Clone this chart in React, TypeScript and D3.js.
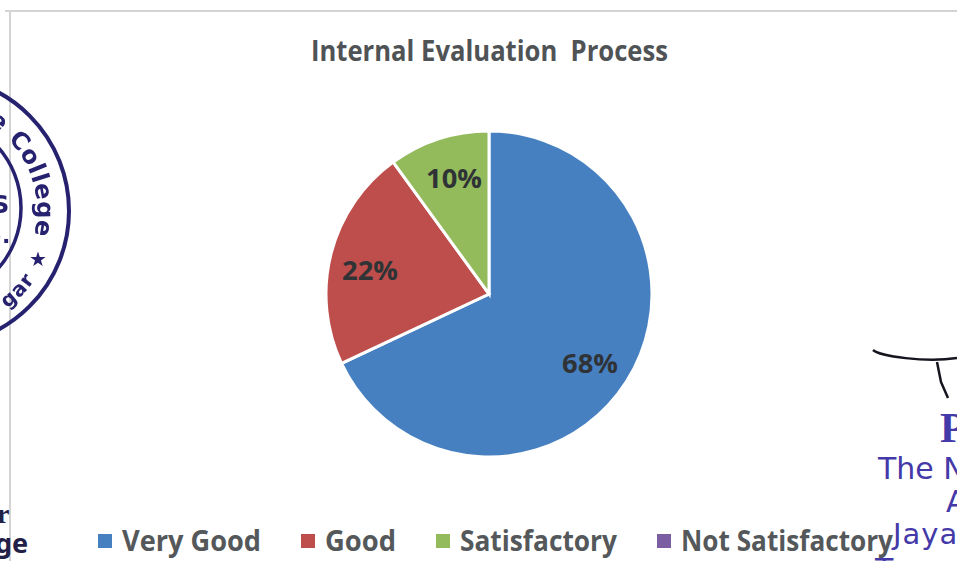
import React from "react";
import * as d3 from "d3";

const chartTitle = "Internal Evaluation  Process";
const categories = ["Very Good", "Good", "Satisfactory", "Not Satisfactory"];
const values = [68, 22, 10, 0];
const colors = ["#4780c0", "#bd4e4b", "#93bb5c", "#7c5fa3"];
const legendX = [98, 301, 436, 657];
const legendTextWidths = [139, 71, 157, 212];
const labelPositions: [number, number][] = [[590, 363], [370, 270], [454, 178]];

const W = 957, H = 561;
const cx = 489, cy = 294, R = 163;
const FONT = "'Open Sans', 'Noto Sans', sans-serif";
const SERIF = "'Liberation Serif', serif";
const SANS = "'DejaVu Sans', sans-serif";
const INK = "#27226f";
const BLUE_INK = "#4439a8";

export default function App() {
  const arcs = d3.pie<number>().sort(null).value((d) => d)(values);
  const arc = d3.arc<d3.PieArcDatum<number>>().innerRadius(0).outerRadius(R);
  const sx = -66, sy = 211;
  const circlePath = (r: number) =>
    `M ${sx} ${sy - r} A ${r} ${r} 0 1 1 ${sx} ${sy + r} A ${r} ${r} 0 1 1 ${sx} ${sy - r}`;
  return (
    <svg width={W} height={H} style={{ position: "absolute", left: 0, top: 0, background: "#fff" }}>
      <defs>
        <path id="stampRing" d={circlePath(103)} />
        <path id="stampRingBottom" d={`M ${sx - 122} ${sy} A 122 122 0 0 0 ${sx + 122} ${sy}`} />
        <filter id="soft"><feGaussianBlur stdDeviation="0.5" /></filter>
      </defs>

      {/* chart frame */}
      <line x1={5} y1={11} x2={W} y2={11} stroke="#d4d4d4" strokeWidth={2} />
      <line x1={10} y1={11} x2={10} y2={H} stroke="#d4d4d4" strokeWidth={2} />

      {/* stamp fragment */}
      <g filter="url(#soft)">
        <circle cx={sx} cy={sy} r={135} fill="none" stroke={INK} strokeWidth={4} />
        <circle cx={-71} cy={208} r={92} fill="none" stroke={INK} strokeWidth={3.5} />
        <text fontFamily={SANS} fontWeight={700} fontSize={24} fill={INK} letterSpacing={0.6}>
          <textPath href="#stampRing" startOffset="56">e College</textPath>
        </text>
        <text x={29} y={266} fontFamily={SANS} fontSize={20} fill={INK}>★</text>
        <text fontFamily={SANS} fontWeight={700} fontSize={20} fill={INK} letterSpacing={1}>
          <textPath href="#stampRingBottom" startOffset="270">gar</textPath>
        </text>
        <text x={-8} y={213} fontFamily={SANS} fontWeight={700} fontSize={24} fill={INK}>S</text>
        <text x={-8} y={243} fontFamily={SANS} fontWeight={700} fontSize={22} fill={INK}>).</text>
      </g>
      <text x={-3} y={523} fontFamily={SERIF} fontWeight={700} fontSize={28} fill="#232048">r</text>
      <text x={-5} y={553} fontFamily="'Noto Sans', sans-serif" fontWeight={700} fontSize={27} fill="#232048">ge</text>

      {/* signature and seal text */}
      <path d="M 873 350 C 880 356, 925 363, 957 358" fill="none" stroke="#15151f" strokeWidth={2.5} />
      <path d="M 937 362 L 941 382 L 948 398" fill="none" stroke="#15151f" strokeWidth={2.5} strokeLinejoin="round" />
      <text x={940} y={442} fontFamily={SERIF} fontWeight={700} fontSize={42} fill={BLUE_INK}>P</text>
      <text x={878} y={479} fontFamily={SANS} fontSize={30} fill={BLUE_INK}>The N</text>
      <text x={946} y={512} fontFamily={SANS} fontSize={30} fill={BLUE_INK}>A</text>
      <text x={893} y={544} fontFamily={SANS} fontSize={29} fill={BLUE_INK} letterSpacing={1}>Jaya</text>
      <text x={875} y={580} fontFamily={SANS} fontSize={30} fill={BLUE_INK}>T</text>

      {/* title */}
      <text x={311} y={61} xmlSpace="preserve" fontFamily={FONT} fontWeight={700} fontSize={28} fill="#505355"
        textLength={357} lengthAdjust="spacingAndGlyphs">{chartTitle}</text>

      {/* pie */}
      <g transform={`translate(${cx},${cy})`}>
        {arcs.filter((a) => a.data > 0).map((a) => (
          <path key={a.index} d={arc(a) ?? ""} fill={colors[a.index]} stroke="#fff" strokeWidth={3} />
        ))}
      </g>
      {labelPositions.map(([x, y], i) => (
        <text key={i} x={x} y={y} textAnchor="middle" dominantBaseline="central"
          fontFamily={FONT} fontWeight={700} fontSize={26} fill="#2f3336"
          textLength={56} lengthAdjust="spacingAndGlyphs">{values[i]}%</text>
      ))}

      {/* legend */}
      {categories.map((c, i) => (
        <g key={c}>
          <rect x={legendX[i]} y={534} width={14} height={14} fill={colors[i]} />
          <text x={legendX[i] + 24} y={551} fontFamily={FONT} fontWeight={700} fontSize={28} fill="#54585a"
            textLength={legendTextWidths[i]} lengthAdjust="spacingAndGlyphs">{c}</text>
        </g>
      ))}
    </svg>
  );
}
